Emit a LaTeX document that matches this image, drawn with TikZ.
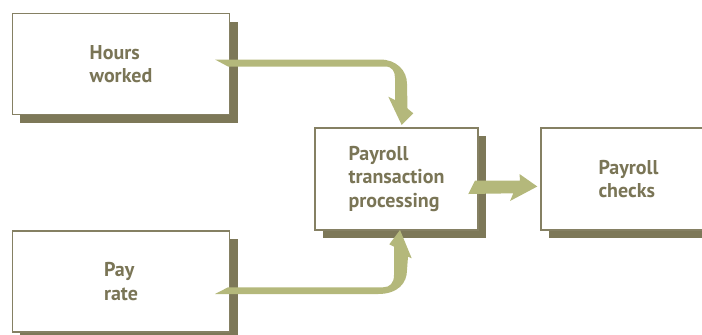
\documentclass[tikz,border=0pt]{standalone}
\usepackage{fontspec}
\setmainfont{PT Sans}
\usetikzlibrary{shadows}
\definecolor{boxline}{HTML}{858063}
\definecolor{shadowc}{HTML}{7D7858}
\definecolor{txtc}{HTML}{7A7556}
\definecolor{arrowc}{HTML}{B4B87B}
\begin{document}
\begin{tikzpicture}[x=1bp,y=-1bp,
  box/.style={draw=boxline, line width=1.6bp, fill=white, inner sep=0pt,
    align=left, text=txtc, font=\bfseries\fontsize{20bp}{23.5bp}\selectfont,
    general shadow={fill=shadowc, shadow xshift=8bp, shadow yshift=-8bp}},
  ribbon/.style={fill=arrowc, draw=none}]
\useasboundingbox (0,0) rectangle (702,334);
\node[box, minimum width=217bp, minimum height=101bp] (hw) at (121,64) {Hours\\worked};
\node[box, minimum width=217bp, minimum height=101bp] (pr) at (121,281.5) {Pay\\rate};
\node[box, minimum width=163bp, minimum height=102bp] (ptp) at (396.5,179) {Payroll\\transaction\\processing};
\node[box, minimum width=175bp, minimum height=102bp] (pc) at (628.5,179) {Payroll\\checks};
% arrow: hours worked -> processing
\fill[ribbon] (215,59.5) -- (380,59.5) .. controls (396,59.5) and (407,70) .. (407,84)
  -- (407.5,108.5) -- (413.3,113.3) -- (401.7,125) -- (388.3,96.7) -- (395,100)
  -- (395,78) .. controls (395,71) and (392,66.5) .. (385,66.5) -- (228,66.5) -- cycle;
% arrow: pay rate -> processing
\fill[ribbon] (215,294) -- (378,294) .. controls (398,294) and (407,283) .. (407,270)
  -- (408,256.7) -- (411.7,258.3) -- (400,230) -- (389.3,244.3) -- (394,246.7)
  -- (394,275) .. controls (394,283) and (390,287.3) .. (383,287.3) -- (228,287.3) -- cycle;
% arrow: processing -> checks
\fill[ribbon] (468.3,194) -- (475,180.5) -- (520,180.5) -- (519.5,174) -- (537.3,186.5)
  -- (510,201) -- (513.3,193.3) -- cycle;
\end{tikzpicture}
\end{document}
